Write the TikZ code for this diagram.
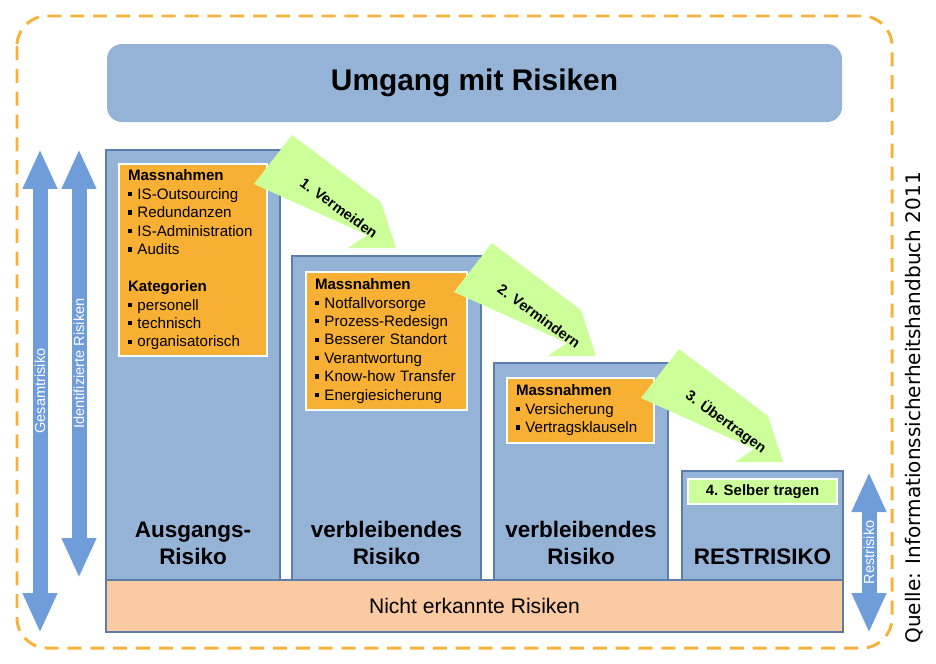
\documentclass[tikz,border=0pt]{standalone}
\usepackage{fontspec}
\setmainfont{Liberation Sans}
\newfontfamily\quellefont{DejaVu Sans}
\usetikzlibrary{arrows.meta,positioning,calc}
\definecolor{cBlue}{RGB}{149,179,215}
\definecolor{cBlueLine}{RGB}{92,124,170}
\definecolor{cOrange}{RGB}{247,176,52}
\definecolor{cPeach}{RGB}{250,202,162}
\definecolor{cGreen}{RGB}{204,255,153}
\definecolor{cArrow}{RGB}{110,157,218}
\definecolor{cFrame}{RGB}{247,178,60}
\newcommand{\pxu}{0.02cm}
\newcommand{\sqb}{\raisebox{1.8pt}{\rule{2.4pt}{2.4pt}}\hspace{3pt}}

\begin{document}
\begin{tikzpicture}[
    x=0.02cm, y=-0.02cm,
    col/.style={rectangle,draw=cBlueLine,line width=0.7pt,fill=cBlue,anchor=north west,inner sep=0pt,outer sep=0pt},
    mbox/.style={rectangle,draw=white,line width=1.1pt,fill=cOrange,anchor=north west,align=left,inner xsep=9*\pxu,inner ysep=0pt,outer sep=0pt,font=\fontsize{8.6}{10.5}\selectfont},
    collabel/.style={align=center,inner sep=0pt,font=\bfseries\fontsize{12.8}{15.3}\selectfont},
    steplabel/.style={inner sep=0pt,rotate=-36,font=\bfseries\fontsize{8.3}{9.6}\selectfont},
    bigarrow/.style={draw=cArrow,line width=15*\pxu,{Triangle[length=0.8cm,width=0.64cm]}-{Triangle[length=0.8cm,width=0.64cm]}},
    arrlabel/.style={rotate=90,text=white,inner sep=0pt,font=\fontsize{8.3}{9}\selectfont}
  ]
  \useasboundingbox (0,0) rectangle (936,663);
  % Frame
  \draw[cFrame,line width=1.7pt,dash pattern=on 8pt off 5pt,rounded corners=0.6cm] (17,16) rectangle (892,648);
  % Title
  \node[rectangle,fill=cBlue,rounded corners=0.3cm,minimum width=735*\pxu,minimum height=78*\pxu,font=\bfseries\fontsize{17}{20}\selectfont] (title) at (474.5,83) {Umgang mit Risiken};
  % Columns
  \foreach \i/\x/\y/\w/\h in {1/106/150/174/430, 2/292/256/189/324, 3/494/363/174/217, 4/682/471/161/109} {
    \node[col,minimum width=\w*\pxu,minimum height=\h*\pxu] (c\i) at (\x,\y) {};
  }
  % Not recognised risks
  \node[rectangle,draw=cBlueLine,line width=0.7pt,fill=cPeach,minimum width=737*\pxu,minimum height=52*\pxu,font=\fontsize{12}{14}\selectfont] (nicht) at (474.5,606) {Nicht erkannte Risiken};
  % Measures
  \node[mbox,text width=2.6cm,minimum height=192*\pxu] (m1) at (119,164)
    {\textbf{Massnahmen}\\ \sqb IS-Outsourcing\\ \sqb Redundanzen\\ \sqb IS-Administration\\ \sqb Audits\\[10.5pt]
     \textbf{Kategorien}\\ \sqb personell\\ \sqb technisch\\ \sqb organisatorisch};
  \node[mbox,text width=2.86cm,minimum height=138*\pxu] (m2) at (306,272)
    {\textbf{Massnahmen}\\ \sqb Notfallvorsorge\\ \sqb Prozess-Redesign\\ \sqb Besserer Standort\\ \sqb Verantwortung\\ \sqb Know-how Transfer\\ \sqb Energiesicherung};
  \node[mbox,text width=2.58cm,minimum height=65*\pxu] (m3) at (507,378)
    {\textbf{Massnahmen}\\ \sqb Versicherung\\ \sqb Vertragsklauseln};
  \node[rectangle,draw=white,line width=1.1pt,fill=cGreen,anchor=north west,inner sep=0pt,minimum width=149*\pxu,minimum height=25*\pxu,font=\bfseries\fontsize{8.5}{10}\selectfont] (m4) at (687,478) {4. Selber tragen};
  % Column labels
  \node[collabel,above=0.3cm of c1.south] (l1) {Ausgangs-\\Risiko};
  \node[collabel,above=0.3cm of c2.south] (l2) {verbleibendes\\Risiko};
  \node[collabel,above=0.3cm of c3.south] (l3) {verbleibendes\\Risiko};
  \node[collabel,above=0.3cm of c4.south] (l4) {RESTRISIKO};
  % Steps
  \foreach \i/\lbl in {1/{1. Vermeiden}, 2/{2. Vermindern}, 3/{3. Übertragen}} {
    \coordinate (t\i) at ($(m\i.north east)+(-13,20)$);
    \fill[cGreen] (t\i) -- +(38,-49) -- +(127,18) -- +(142,64) -- +(94,64) -- +(113,51) -- cycle;
    \node[steplabel] (s\i) at ($(t\i)+(85,24)$) {\lbl};
  }
  % Risk ranges
  \coordinate (gs1) at (40,149);  \coordinate (gs2) at (40,633);
  \coordinate (ir1) at (79,149);  \coordinate (ir2) at (79,578);
  \coordinate (rr1) at (869,472); \coordinate (rr2) at (869,633);
  \draw[bigarrow] (gs1) -- (gs2) node[midway,arrlabel] (gsl) {Gesamtrisiko};
  \draw[bigarrow] (ir1) -- (ir2) node[midway,arrlabel] (irl) {Identifizierte Risiken};
  \draw[bigarrow] (rr1) -- (rr2) node[midway,arrlabel] (rrl) {Restrisiko};
  % Source
  \node[rotate=90,inner sep=0pt,font=\quellefont\fontsize{11.4}{13}\selectfont] (quelle) at (914,408) {Quelle: Informationssicherheitshandbuch 2011};
\end{tikzpicture}
\end{document}
